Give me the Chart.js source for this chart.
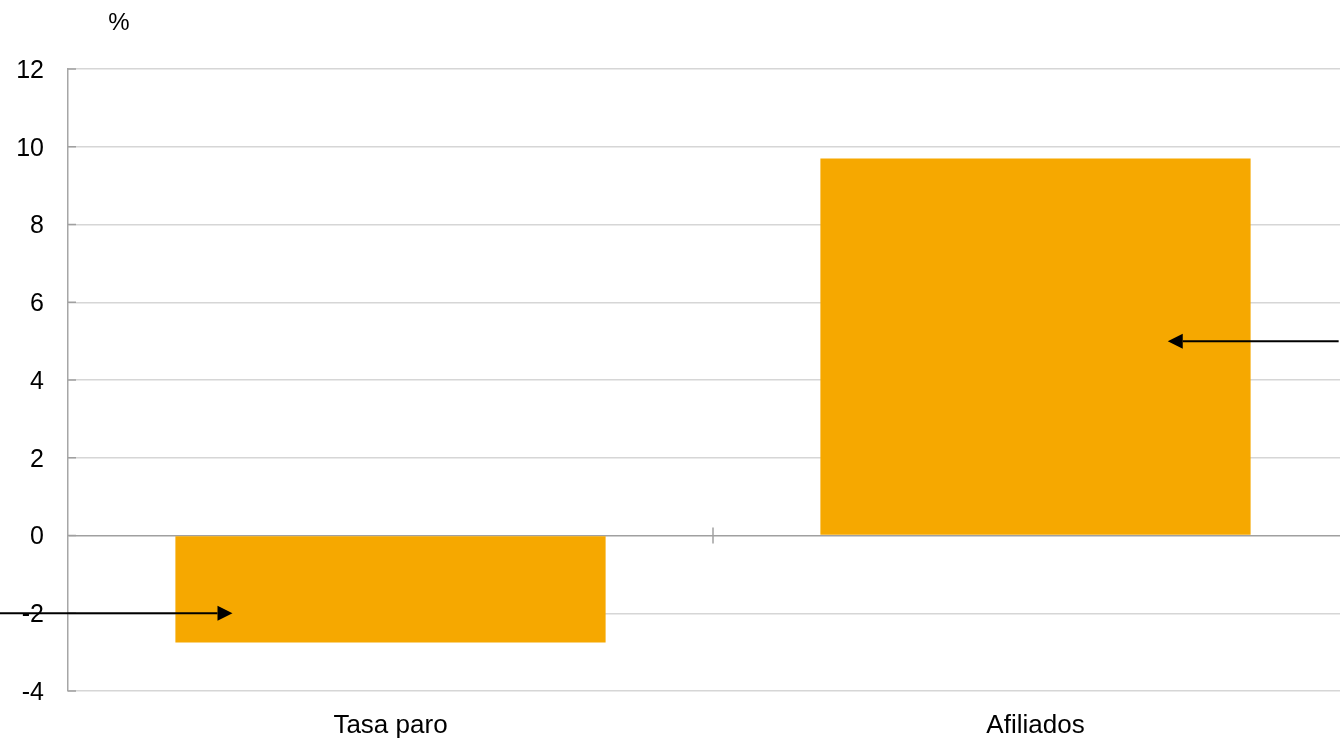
<!DOCTYPE html>
<html>
  <head>
    <style>
      html, body {
        margin: 0;
        padding: 0;
        overflow: hidden;
        background: #ffffff;
      }
      #chartContainer {
        width: 1358px;
        height: 738px;
      }
    </style>
  </head>

  <body>
    <div id="chartContainer">
      <canvas id="myChart"></canvas>
    </div>

    <script src="https://cdn.jsdelivr.net/npm/chart.js"></script>
    <script>
      const ctx = document.getElementById('myChart');

      // categories and values
      const categories = ['Tasa paro', 'Afiliados'];
      const values = [-2.75, 9.7];

      // y axis ticks
      const yTicks = [-4, -2, 0, 2, 4, 6, 8, 10, 12];
      const yUnit = '%';

      // arrow annotations (in data units: category index along x, value along y)
      const arrowY = [-2, 5];
      const arrowFrom = [-0.61, 1.47];
      const arrowTo = [-0.245, 1.205];

      const fontFamily = "'Liberation Sans', Arial, Helvetica, sans-serif";
      const barColor = '#f6a800';

      const extras = {
        id: 'extras',
        afterDraw(chart) {
          const c = chart.ctx;
          const x = chart.scales.x;
          const y = chart.scales.y;
          const area = chart.chartArea;

          c.save();

          // inside tick marks on the y axis
          c.strokeStyle = '#a0a0a0';
          c.lineWidth = 1.5;
          yTicks.forEach(v => {
            const py = y.getPixelForValue(v);
            c.beginPath();
            c.moveTo(area.left, py);
            c.lineTo(area.left + 8, py);
            c.stroke();
          });

          // category separator tick on the zero line
          const y0 = y.getPixelForValue(0);
          const xm = x.getPixelForValue(0.5);
          c.beginPath();
          c.moveTo(xm, y0 - 8);
          c.lineTo(xm, y0 + 8);
          c.stroke();

          // arrows
          c.strokeStyle = '#000000';
          c.fillStyle = '#000000';
          c.lineWidth = 2;
          for (let i = 0; i < arrowY.length; i++) {
            const py = y.getPixelForValue(arrowY[i]);
            const x1 = x.getPixelForValue(arrowFrom[i]);
            const x2 = x.getPixelForValue(arrowTo[i]);
            const dir = x2 > x1 ? 1 : -1;
            const head = 15;
            c.beginPath();
            c.moveTo(x1, py);
            c.lineTo(x2 - dir * head, py);
            c.stroke();
            c.beginPath();
            c.moveTo(x2, py);
            c.lineTo(x2 - dir * head, py - 7.5);
            c.lineTo(x2 - dir * head, py + 7.5);
            c.closePath();
            c.fill();
          }

          // unit label
          c.fillStyle = '#000000';
          c.font = '24px ' + fontFamily;
          c.textAlign = 'center';
          c.textBaseline = 'middle';
          c.fillText(yUnit, 119, 23);

          c.restore();
        }
      };

      const myChart = new Chart(ctx, {
        type: 'bar',
        data: {
          labels: categories,
          datasets: [{
            data: values,
            backgroundColor: barColor,
            borderWidth: 0,
            categoryPercentage: 1,
            barPercentage: 0.667
          }]
        },
        plugins: [extras],
        options: {
          responsive: true,
          maintainAspectRatio: false,
          animation: false,
          layout: {
            padding: { top: 69, left: 0, right: 0, bottom: 0 }
          },
          plugins: {
            legend: { display: false },
            title: { display: false },
            tooltip: { enabled: false }
          },
          scales: {
            x: {
              afterFit: axis => { axis.height = 47; },
              grid: { display: false, drawTicks: false },
              border: { display: false },
              ticks: {
                color: '#000000',
                padding: 19,
                font: { family: fontFamily, size: 26 }
              }
            },
            y: {
              min: -4,
              max: 12,
              afterFit: axis => { axis.width = 68; },
              afterBuildTicks: axis => {
                axis.ticks = yTicks.map(v => ({ value: v }));
              },
              grid: {
                drawTicks: false,
                lineWidth: 1.5,
                color: c => (c.tick && c.tick.value === 0 ? '#a0a0a0' : '#d6d6d6')
              },
              border: { display: true, color: '#a6a6a6', width: 1.5 },
              ticks: {
                color: '#000000',
                padding: 24,
                labelOffset: 2,
                font: { family: fontFamily, size: 25 }
              }
            }
          }
        }
      });
    </script>
  </body>
</html>
